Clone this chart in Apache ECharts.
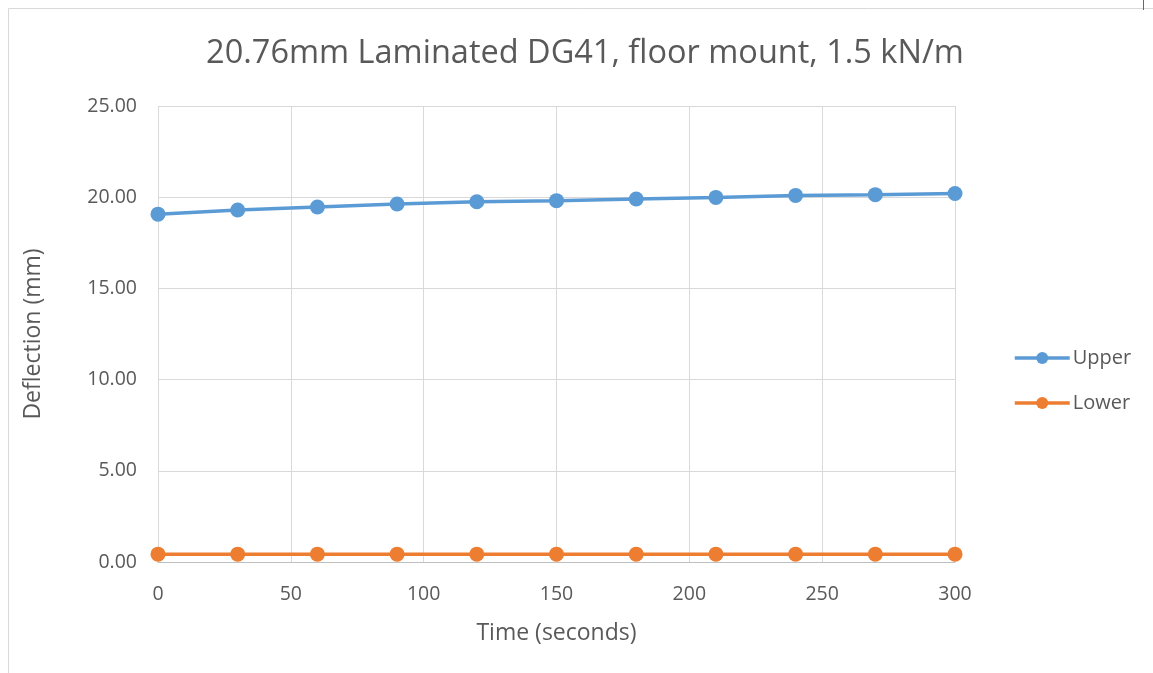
<!DOCTYPE html>
<html>
<head>
<meta charset="utf-8">
<script src="https://cdn.jsdelivr.net/npm/echarts@6/dist/echarts.min.js"></script>
<style>
  html, body { margin: 0; padding: 0; background: #fff; }
  #chart { width: 1153px; height: 673px; }
</style>
</head>
<body>
<div id="chart"></div>
<script>
// Time samples (seconds) and measured deflections (mm)
const timeSeconds = [0, 30, 60, 90, 120, 150, 180, 210, 240, 270, 300];
const upperDeflection = [19.07, 19.30, 19.46, 19.63, 19.75, 19.81, 19.90, 19.99, 20.10, 20.14, 20.20];
const lowerDeflection = [0.43, 0.43, 0.43, 0.43, 0.43, 0.43, 0.43, 0.43, 0.43, 0.43, 0.43];
const seriesNames = ['Upper', 'Lower'];
const seriesColors = ['#5b9bd5', '#ed7d31'];
const chartTitle = '20.76mm Laminated DG41, floor mount, 1.5 kN/m';

const font = '"Open Sans", "Noto Sans", sans-serif';
const pairs = (ys) => timeSeconds.map((t, i) => [t, ys[i]]);

const chart = echarts.init(document.getElementById('chart'), null, { renderer: 'canvas' });
chart.setOption({
  animation: false,
  backgroundColor: '#ffffff',
  graphic: [
    { type: 'rect', shape: { x: 8.5, y: 8.5, width: 1160, height: 680 },
      style: { fill: 'none', stroke: '#d9d9d9', lineWidth: 1 }, silent: true },
    { type: 'line', shape: { x1: 1143.5, y1: 0, x2: 1143.5, y2: 10 },
      style: { stroke: '#2e75b6', lineWidth: 1 }, silent: true }
  ],
  title: {
    text: chartTitle,
    left: 580, top: 32, textAlign: 'center',
    textStyle: { fontFamily: font, fontSize: 32.5, fontWeight: 'normal', color: '#595959' }
  },
  grid: { left: 158, right: 198, top: 106, bottom: 111, containLabel: false },
  legend: {
    orient: 'vertical', left: 1008, top: 343, itemGap: 25,
    itemWidth: 55, itemHeight: 15,
    lineStyle: { width: 3.5 },
    textStyle: { fontFamily: font, fontSize: 20, color: '#595959', padding: [0, 0, 0, -2] },
    data: seriesNames
  },
  xAxis: {
    type: 'value', min: 0, max: 300, interval: 50,
    name: 'Time (seconds)', nameLocation: 'middle', nameGap: 60,
    nameTextStyle: { fontFamily: font, fontSize: 23, color: '#595959' },
    axisLine: { show: true, lineStyle: { color: '#bfbfbf', width: 1 } },
    axisTick: { show: false },
    axisLabel: { fontFamily: font, fontSize: 19.5, color: '#595959', margin: 22 },
    splitLine: { show: true, lineStyle: { color: '#d9d9d9', width: 1 } }
  },
  yAxis: {
    type: 'value', min: 0, max: 25, interval: 5,
    name: 'Deflection (mm)', nameLocation: 'middle', nameGap: 113, nameRotate: 90,
    nameTextStyle: { fontFamily: font, fontSize: 23, color: '#595959' },
    axisLine: { show: false },
    axisTick: { show: false },
    axisLabel: { fontFamily: font, fontSize: 19.5, color: '#595959', margin: 21,
      formatter: (v) => v.toFixed(2) },
    splitLine: { show: true, lineStyle: { color: '#d9d9d9', width: 1 } }
  },
  series: [
    { name: seriesNames[0], type: 'line', data: pairs(upperDeflection),
      color: seriesColors[0], symbol: 'circle', symbolSize: 15,
      lineStyle: { width: 3.5, color: seriesColors[0] },
      itemStyle: { color: seriesColors[0] } },
    { name: seriesNames[1], type: 'line', data: pairs(lowerDeflection),
      color: seriesColors[1], symbol: 'circle', symbolSize: 15,
      lineStyle: { width: 3.5, color: seriesColors[1] },
      itemStyle: { color: seriesColors[1] } }
  ]
});
</script>
</body>
</html>
